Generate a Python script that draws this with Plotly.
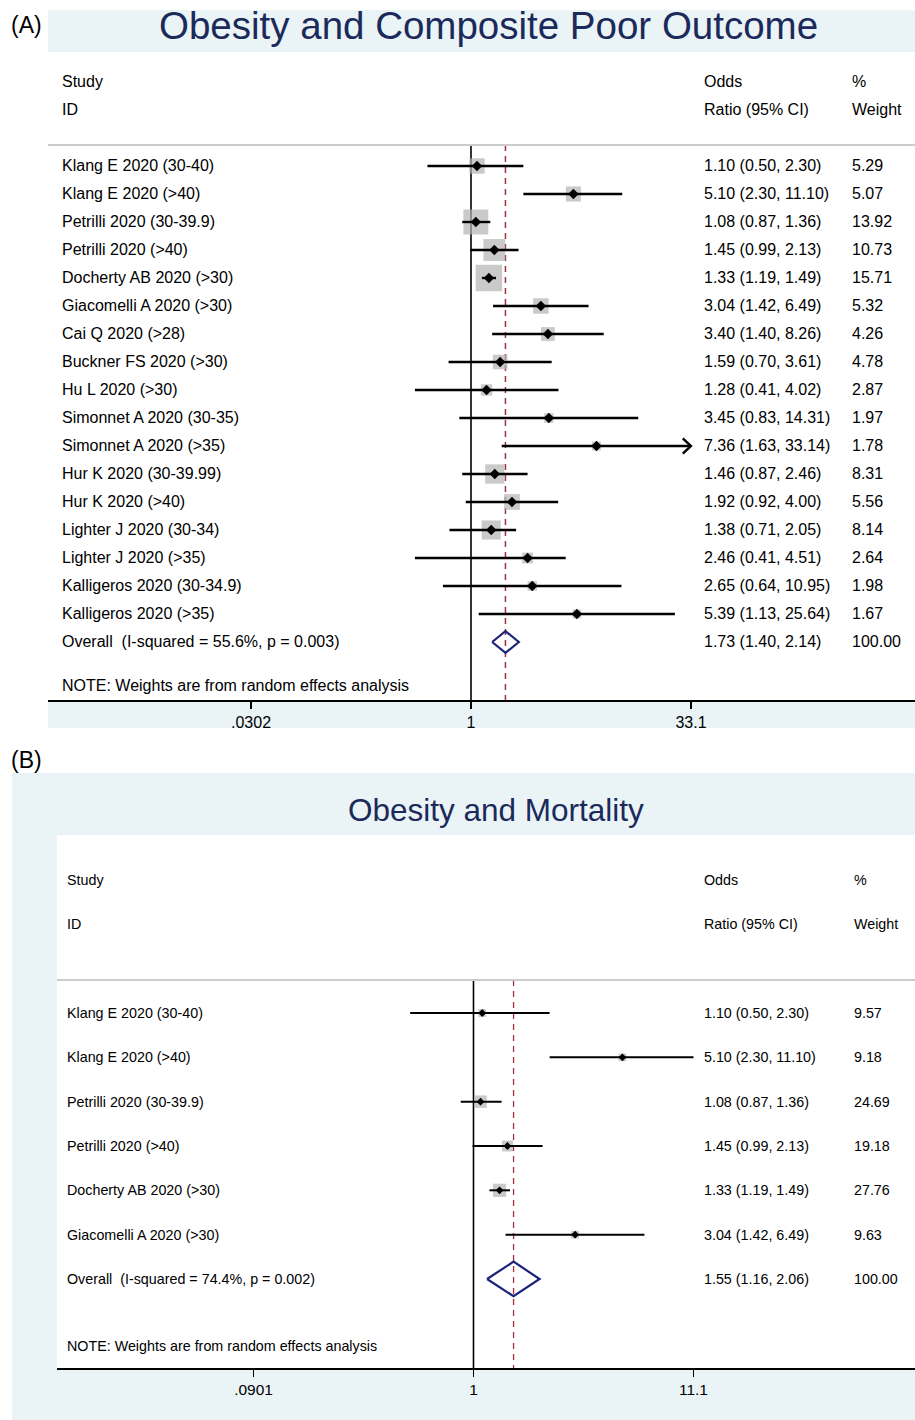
import math
import plotly.graph_objects as go

W, H = 915, 1420

# ---------------- data: panel A ----------------
title_a = "Obesity and Composite Poor Outcome"
studies_a = [
    "Klang E 2020 (30-40)", "Klang E 2020 (>40)", "Petrilli 2020 (30-39.9)",
    "Petrilli 2020 (>40)", "Docherty AB 2020 (>30)", "Giacomelli A 2020 (>30)",
    "Cai Q 2020 (>28)", "Buckner FS 2020 (>30)", "Hu L 2020 (>30)",
    "Simonnet A 2020 (30-35)", "Simonnet A 2020 (>35)", "Hur K 2020 (30-39.99)",
    "Hur K 2020 (>40)", "Lighter J 2020 (30-34)", "Lighter J 2020 (>35)",
    "Kalligeros 2020 (30-34.9)", "Kalligeros 2020 (>35)",
]
or_a = [1.10, 5.10, 1.08, 1.45, 1.33, 3.04, 3.40, 1.59, 1.28, 3.45, 7.36, 1.46, 1.92, 1.38, 2.46, 2.65, 5.39]
lo_a = [0.50, 2.30, 0.87, 0.99, 1.19, 1.42, 1.40, 0.70, 0.41, 0.83, 1.63, 0.87, 0.92, 0.71, 0.41, 0.64, 1.13]
hi_a = [2.30, 11.10, 1.36, 2.13, 1.49, 6.49, 8.26, 3.61, 4.02, 14.31, 33.14, 2.46, 4.00, 2.05, 4.51, 10.95, 25.64]
wt_a = [5.29, 5.07, 13.92, 10.73, 15.71, 5.32, 4.26, 4.78, 2.87, 1.97, 1.78, 8.31, 5.56, 8.14, 2.64, 1.98, 1.67]
overall_a = [1.73, 1.40, 2.14]
overall_wt_a = "100.00"
i2_a, p_a = "55.6%", "0.003"
ticks_a = [0.0302, 1, 33.1]
ticktext_a = [".0302", "1", "33.1"]

# ---------------- data: panel B ----------------
title_b = "Obesity and Mortality"
studies_b = [
    "Klang E 2020 (30-40)", "Klang E 2020 (>40)", "Petrilli 2020 (30-39.9)",
    "Petrilli 2020 (>40)", "Docherty AB 2020 (>30)", "Giacomelli A 2020 (>30)",
]
or_b = [1.10, 5.10, 1.08, 1.45, 1.33, 3.04]
lo_b = [0.50, 2.30, 0.87, 0.99, 1.19, 1.42]
hi_b = [2.30, 11.10, 1.36, 2.13, 1.49, 6.49]
wt_b = [9.57, 9.18, 24.69, 19.18, 27.76, 9.63]
overall_b = [1.55, 1.16, 2.06]
overall_wt_b = "100.00"
i2_b, p_b = "74.4%", "0.002"
ticks_b = [0.0901, 1, 11.1]
ticktext_b = [".0901", "1", "11.1"]

# ---------------- styling / geometry ----------------
FONT = "Liberation Sans, Arial, sans-serif"
BLUE_BG = "#eaf4f6"
TITLE_COL = "#1b2a5a"
BOX_COL = "#b3b3b3"
DIAMOND_COL = "#1c2378"
REF_COL = "#a3303a"
SEP_COL = "#cccccc"

panels = [
    dict(key="", studies=studies_a, est=or_a, lo=lo_a, hi=hi_a, wt=wt_a, ov=overall_a,
         ov_wt=overall_wt_a, i2=i2_a, p=p_a, ticks=ticks_a, ticktext=ticktext_a,
         title=title_a, tag="(A)",
         left=48, right=915, top=52, bottom=700, row0=166, step=28.0,
         x_one=471, px_ln=62.85, sep=145, head1=82, head2=110, note=686,
         col_study=60, col_or=702, col_w=850, font=16, tickfont=16,
         box_k=26.5, box_ref=15.71, pt=8, ci_w=2.4, ref_w=1.5,
         title_x=488.5, title_y=26, title_size=38.5, tag_x=9, tag_y=25,
         arrow_dx=0.13, arrow_dy=0.27),
    dict(key="2", studies=studies_b, est=or_b, lo=lo_b, hi=hi_b, wt=wt_b, ov=overall_b,
         ov_wt=overall_wt_b, i2=i2_b, p=p_b, ticks=ticks_b, ticktext=ticktext_b,
         title=title_b, tag="(B)",
         left=57, right=915, top=835, bottom=1368, row0=1013, step=44.33,
         x_one=473.5, px_ln=91.4, sep=980, head1=880, head2=924, note=1346,
         col_study=65, col_or=702, col_w=852, font=14.3, tickfont=15.5,
         box_k=13.2, box_ref=27.76, pt=6, ci_w=2.0, ref_w=1.3,
         title_x=496, title_y=810, title_size=31.5, tag_x=9, tag_y=760,
         arrow_dx=0.09, arrow_dy=0.27),
]

fig = go.Figure()
annotations = []
shapes = [
    # panel A graph-region bands
    dict(type="rect", xref="paper", yref="paper", x0=48 / W, x1=1, y0=1 - 52 / H, y1=1 - 10 / H,
         fillcolor=BLUE_BG, line_width=0, layer="below"),
    dict(type="rect", xref="paper", yref="paper", x0=48 / W, x1=1, y0=1 - 728 / H, y1=1 - 700 / H,
         fillcolor=BLUE_BG, line_width=0, layer="below"),
    # panel B graph region + plot region
    dict(type="rect", xref="paper", yref="paper", x0=12 / W, x1=1, y0=0, y1=1 - 773 / H,
         fillcolor=BLUE_BG, line_width=0, layer="below"),
    dict(type="rect", xref="paper", yref="paper", x0=57 / W, x1=1, y0=1 - 1368 / H, y1=1 - 835 / H,
         fillcolor="white", line_width=0, layer="below"),
]

layout_axes = {}
for P in panels:
    k = P["key"]
    xa, ya = "x" + k, "y" + k
    n = len(P["studies"])
    r_top = (P["top"] - P["row0"]) / P["step"]
    r_bot = (P["bottom"] - P["row0"]) / P["step"]
    r_sep = (P["sep"] - P["row0"]) / P["step"]
    r_h1 = (P["head1"] - P["row0"]) / P["step"]
    r_h2 = (P["head2"] - P["row0"]) / P["step"]
    r_note = (P["note"] - P["row0"]) / P["step"]
    ln_l = (P["left"] - P["x_one"]) / P["px_ln"]
    ln_r = (P["right"] - P["x_one"]) / P["px_ln"]
    xmax = max(P["ticks"])
    rows = list(range(n))
    r_ov = n

    # null line at OR = 1
    fig.add_trace(go.Scatter(x=[1, 1], y=[r_sep, r_bot], mode="lines", xaxis=xa, yaxis=ya,
                             line=dict(color="black", width=1.6), hoverinfo="skip", showlegend=False))
    # dashed line at overall estimate
    fig.add_trace(go.Scatter(x=[P["ov"][0]] * 2, y=[r_sep, r_bot], mode="lines", xaxis=xa, yaxis=ya,
                             line=dict(color=REF_COL, width=P["ref_w"], dash="6px,5px"),
                             hoverinfo="skip", showlegend=False))
    # weight boxes
    sizes = [P["box_k"] * math.sqrt(w / P["box_ref"]) for w in P["wt"]]
    fig.add_trace(go.Scatter(x=P["est"], y=rows, mode="markers", xaxis=xa, yaxis=ya,
                             marker=dict(symbol="square", size=sizes, color=BOX_COL, line_width=0),
                             hoverinfo="skip", showlegend=False))
    # confidence intervals (clipped at the axis maximum)
    cx, cy, ax_, ay_ = [], [], [], []
    for i, (l, h) in enumerate(zip(P["lo"], P["hi"])):
        hh = min(h, xmax)
        cx += [l, hh, None]
        cy += [i, i, None]
        if h > xmax:
            back = xmax / math.exp(P["arrow_dx"])
            ax_ += [back, xmax, back, None]
            ay_ += [i - P["arrow_dy"], i, i + P["arrow_dy"], None]
    fig.add_trace(go.Scatter(x=cx, y=cy, mode="lines", xaxis=xa, yaxis=ya,
                             line=dict(color="black", width=P["ci_w"]),
                             hoverinfo="skip", showlegend=False))
    if ax_:
        fig.add_trace(go.Scatter(x=ax_, y=ay_, mode="lines", xaxis=xa, yaxis=ya,
                                 line=dict(color="black", width=P["ci_w"]),
                                 hoverinfo="skip", showlegend=False))
    # point estimates
    fig.add_trace(go.Scatter(x=P["est"], y=rows, mode="markers", xaxis=xa, yaxis=ya,
                             marker=dict(symbol="diamond", size=P["pt"], color="black", line_width=0),
                             hoverinfo="skip", showlegend=False))
    # overall diamond
    e, l, h = P["ov"]
    d = 0.39
    fig.add_trace(go.Scatter(x=[l, e, h, e, l], y=[r_ov, r_ov - d, r_ov, r_ov + d, r_ov],
                             mode="lines", xaxis=xa, yaxis=ya,
                             line=dict(color=DIAMOND_COL, width=2.2),
                             hoverinfo="skip", showlegend=False))

    # separator line under header
    shapes.append(dict(type="line", xref="paper", yref=ya, x0=P["left"] / W, x1=1, y0=r_sep, y1=r_sep,
                       line=dict(color=SEP_COL, width=2)))

    # texts
    def txt(px, r, s, size=P["font"], xanchor="left"):
        annotations.append(dict(x=px / W, y=r, xref="paper", yref=ya, text=s, showarrow=False,
                                xanchor=xanchor, yanchor="middle",
                                font=dict(family=FONT, size=size, color="black")))

    txt(P["col_study"], r_h1, "Study")
    txt(P["col_study"], r_h2, "ID")
    txt(P["col_or"], r_h1, "Odds")
    txt(P["col_or"], r_h2, "Ratio (95% CI)")
    txt(P["col_w"], r_h1, "%")
    txt(P["col_w"], r_h2, "Weight")
    for i in rows:
        txt(P["col_study"], i, P["studies"][i])
        txt(P["col_or"], i, f"{P['est'][i]:.2f} ({P['lo'][i]:.2f}, {P['hi'][i]:.2f})")
        txt(P["col_w"], i, f"{P['wt'][i]:.2f}")
    txt(P["col_study"], r_ov, f"Overall\u00a0 (I-squared = {P['i2']}, p = {P['p']})")
    txt(P["col_or"], r_ov, f"{e:.2f} ({l:.2f}, {h:.2f})")
    txt(P["col_w"], r_ov, P["ov_wt"])
    txt(P["col_study"], r_note, "NOTE: Weights are from random effects analysis")

    # title and panel tag
    annotations.append(dict(x=P["title_x"] / W, y=1 - P["title_y"] / H, xref="paper", yref="paper",
                            text=P["title"], showarrow=False, xanchor="center", yanchor="middle",
                            font=dict(family=FONT, size=P["title_size"], color=TITLE_COL)))
    annotations.append(dict(x=P["tag_x"] / W, y=1 - P["tag_y"] / H, xref="paper", yref="paper",
                            text=P["tag"], showarrow=False, xanchor="left", yanchor="middle",
                            font=dict(family=FONT, size=23, color="black")))

    layout_axes["xaxis" + k] = dict(
        type="log", domain=[P["left"] / W, P["right"] / W], anchor=ya,
        range=[ln_l / math.log(10), ln_r / math.log(10)],
        tickvals=P["ticks"], ticktext=P["ticktext"], ticks="outside", ticklen=7, tickwidth=1.5,
        tickcolor="black", showline=True, linecolor="black", linewidth=1.6,
        showgrid=False, zeroline=False, fixedrange=True,
        tickfont=dict(family=FONT, size=P["tickfont"], color="black"))
    layout_axes["yaxis" + k] = dict(
        domain=[1 - P["bottom"] / H, 1 - P["top"] / H], anchor=xa,
        range=[r_bot, r_top], visible=False, showgrid=False, zeroline=False, fixedrange=True)

fig.update_layout(
    width=W, height=H, autosize=False,
    margin=dict(l=0, r=0, t=0, b=0, pad=0),
    paper_bgcolor="white", plot_bgcolor="rgba(0,0,0,0)",
    showlegend=False, shapes=shapes, annotations=annotations,
    **layout_axes,
)

fig.write_html(
    "out.html",
    config={"displayModeBar": False, "staticPlot": True},
    post_script="document.body.style.margin='0';document.body.style.overflow='hidden';",
)
